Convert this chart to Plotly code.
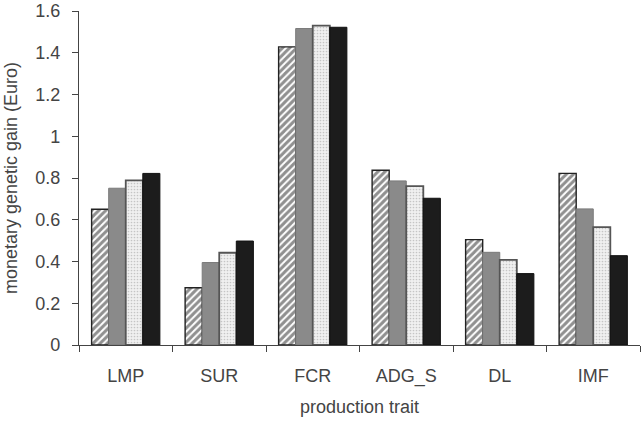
import plotly.graph_objects as go

categories = ["LMP", "SUR", "FCR", "ADG_S", "DL", "IMF"]
series_1 = [0.65, 0.274, 1.428, 0.837, 0.505, 0.822]
series_2 = [0.751, 0.395, 1.516, 0.786, 0.444, 0.652]
series_3 = [0.789, 0.442, 1.530, 0.761, 0.408, 0.565]
series_4 = [0.822, 0.498, 1.522, 0.703, 0.342, 0.428]
y_ticks = [0, 0.2, 0.4, 0.6, 0.8, 1, 1.2, 1.4, 1.6]

fig = go.Figure()
fig.add_bar(x=categories, y=series_1, name="s1",
            marker=dict(color="white",
                        pattern=dict(shape="/", fgcolor="#222", bgcolor="white", size=5, solidity=0.6),
                        line=dict(color="#222", width=1.4)))
fig.add_bar(x=categories, y=series_2, name="s2",
            marker=dict(color="#8a8a8a", line=dict(color="#7a7a7a", width=1)))
fig.add_bar(x=categories, y=series_3, name="s3",
            marker=dict(color="#eeeeee",
                        pattern=dict(shape=".", fgcolor="#9a9a9a", bgcolor="#f0f0f0", size=3, solidity=0.25),
                        line=dict(color="#555", width=1.8)))
fig.add_bar(x=categories, y=series_4, name="s4",
            marker=dict(color="#1c1c1c", line=dict(color="#111", width=1)))

font = dict(family="Liberation Sans, Arial, sans-serif", size=18, color="#444")
fig.update_layout(
    width=641, height=424,
    margin=dict(l=79, r=1, t=11, b=79),
    paper_bgcolor="white", plot_bgcolor="white",
    barmode="group", bargap=0.27, bargroupgap=0,
    showlegend=False, font=font,
)
fig.update_xaxes(
    type="category", showline=True, linecolor="#444", linewidth=1.2,
    ticks="outside", tickson="boundaries", ticklen=6, tickcolor="#444",
    ticklabelstandoff=14, automargin=False,
    title=dict(text="production trait", standoff=14, font=font),
    showgrid=False, zeroline=False,
)
fig.update_yaxes(
    range=[0, 1.6], tickvals=y_ticks, showline=True, linecolor="#444", linewidth=1.2,
    ticks="outside", ticklen=6, tickcolor="#444", ticklabelstandoff=8,
    ticklabeloverflow="allow", automargin=False,
    title=dict(text="monetary genetic gain (Euro)", standoff=12, font=font),
    showgrid=False, zeroline=False,
)
fig.write_html("out.html")
